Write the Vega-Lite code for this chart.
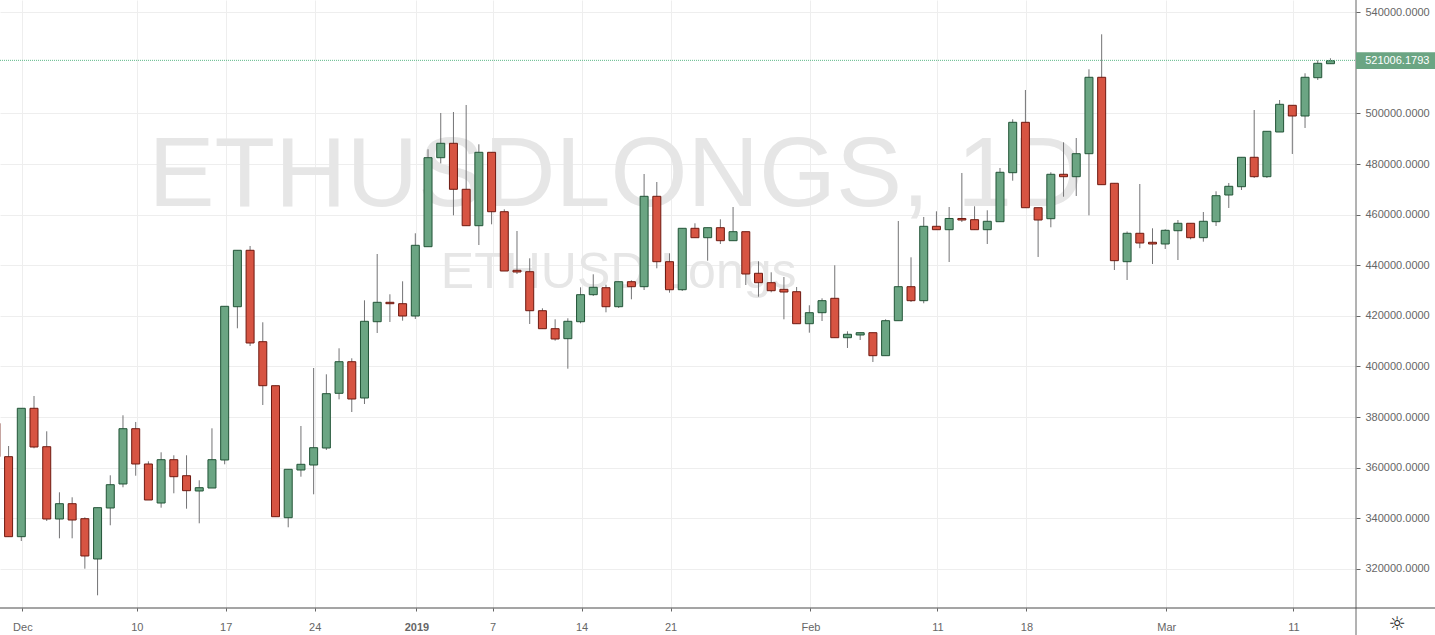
{"$schema":"https://vega.github.io/schema/vega-lite/v6.json","width":1356,"height":608,"autosize":{"type":"none"},"padding":{"left":0,"top":0,"right":79,"bottom":27},"background":"#ffffff","config":{"view":{"stroke":null},"font":"Liberation Sans"},
"datasets":{"candles":[
{"date":"2018-11-29","open":377550,"high":377550,"low":364350,"close":364350},
{"date":"2018-11-30","open":364350,"high":368570,"low":332730,"close":332730},
{"date":"2018-12-01","open":332730,"high":383480,"low":331020,"close":383480},
{"date":"2018-12-02","open":383480,"high":388340,"low":367660,"close":368180},
{"date":"2018-12-03","open":368290,"high":374380,"low":338930,"close":339720},
{"date":"2018-12-04","open":339720,"high":350270,"low":332090,"close":345770},
{"date":"2018-12-05","open":345770,"high":348300,"low":332090,"close":339320},
{"date":"2018-12-06","open":339840,"high":340390,"low":320080,"close":325100},
{"date":"2018-12-07","open":323910,"high":344190,"low":309560,"close":344190},
{"date":"2018-12-08","open":344070,"high":356990,"low":337230,"close":353280},
{"date":"2018-12-09","open":353560,"high":380710,"low":352250,"close":375410},
{"date":"2018-12-10","open":375410,"high":378060,"low":356830,"close":361460},
{"date":"2018-12-11","open":361460,"high":362530,"low":347230,"close":347230},
{"date":"2018-12-12","open":346040,"high":366080,"low":344190,"close":363160},
{"date":"2018-12-13","open":363160,"high":364900,"low":349880,"close":356440},
{"date":"2018-12-14","open":356830,"high":364900,"low":343790,"close":350910},
{"date":"2018-12-15","open":350790,"high":355020,"low":338020,"close":352090},
{"date":"2018-12-16","open":351970,"high":375570,"low":351970,"close":363160},
{"date":"2018-12-17","open":363040,"high":423790,"low":361340,"close":423790},
{"date":"2018-12-18","open":423630,"high":445930,"low":415100,"close":445930},
{"date":"2018-12-19","open":445930,"high":447630,"low":408100,"close":409290},
{"date":"2018-12-20","open":409800,"high":417470,"low":384780,"close":392410},
{"date":"2018-12-21","open":392410,"high":392410,"low":340630,"close":340630},
{"date":"2018-12-22","open":340230,"high":359360,"low":336440,"close":359360},
{"date":"2018-12-23","open":359090,"high":376480,"low":356440,"close":361340},
{"date":"2018-12-24","open":361060,"high":399400,"low":349480,"close":367900},
{"date":"2018-12-25","open":367780,"high":396910,"low":366990,"close":389250},
{"date":"2018-12-26","open":389400,"high":407190,"low":387030,"close":401890},
{"date":"2018-12-27","open":401890,"high":403240,"low":382010,"close":387150},
{"date":"2018-12-28","open":387550,"high":426160,"low":385170,"close":417860},
{"date":"2018-12-29","open":417700,"high":444460,"low":413240,"close":425370},
{"date":"2018-12-30","open":425370,"high":428540,"low":417590,"close":424820},
{"date":"2018-12-31","open":424820,"high":433670,"low":418100,"close":419960},
{"date":"2019-01-01","open":419960,"high":452650,"low":418770,"close":447900},
{"date":"2019-01-02","open":447350,"high":485850,"low":447350,"close":482530},
{"date":"2019-01-03","open":482530,"high":500200,"low":480310,"close":488220},
{"date":"2019-01-04","open":488220,"high":500590,"low":459760,"close":470040},
{"date":"2019-01-05","open":470040,"high":503360,"low":455650,"close":455650},
{"date":"2019-01-06","open":455650,"high":487820,"low":448020,"close":484660},
{"date":"2019-01-07","open":484660,"high":484660,"low":456200,"close":461180},
{"date":"2019-01-08","open":461180,"high":462130,"low":437740,"close":437740},
{"date":"2019-01-09","open":438020,"high":453550,"low":436560,"close":437350},
{"date":"2019-01-10","open":437470,"high":442760,"low":416800,"close":422050},
{"date":"2019-01-11","open":422050,"high":423000,"low":414940,"close":414940},
{"date":"2019-01-12","open":414940,"high":418650,"low":410200,"close":410870},
{"date":"2019-01-13","open":410990,"high":419050,"low":399130,"close":417860},
{"date":"2019-01-14","open":417700,"high":431300,"low":417070,"close":428380},
{"date":"2019-01-15","open":428380,"high":436440,"low":427860,"close":431300},
{"date":"2019-01-16","open":431140,"high":432330,"low":421420,"close":423630},
{"date":"2019-01-17","open":423630,"high":433510,"low":423120,"close":433510},
{"date":"2019-01-18","open":433510,"high":434070,"low":426560,"close":431540},
{"date":"2019-01-19","open":431540,"high":476080,"low":430230,"close":467270},
{"date":"2019-01-20","open":467270,"high":472920,"low":438810,"close":441420},
{"date":"2019-01-21","open":441420,"high":444740,"low":429170,"close":430350},
{"date":"2019-01-22","open":430350,"high":454620,"low":429840,"close":454620},
{"date":"2019-01-23","open":454620,"high":456600,"low":450910,"close":450910},
{"date":"2019-01-24","open":450910,"high":454860,"low":441820,"close":454860},
{"date":"2019-01-25","open":454860,"high":458180,"low":448420,"close":449720},
{"date":"2019-01-26","open":449720,"high":463040,"low":449720,"close":453280},
{"date":"2019-01-27","open":453280,"high":453280,"low":432210,"close":436560},
{"date":"2019-01-28","open":436840,"high":441580,"low":427590,"close":433120},
{"date":"2019-01-29","open":433120,"high":437230,"low":429330,"close":429960},
{"date":"2019-01-30","open":430510,"high":435370,"low":418650,"close":429440},
{"date":"2019-01-31","open":429560,"high":431420,"low":416910,"close":416910},
{"date":"2019-02-01","open":416910,"high":424190,"low":413360,"close":421260},
{"date":"2019-02-02","open":421260,"high":426950,"low":417980,"close":426010},
{"date":"2019-02-03","open":426950,"high":440000,"low":411380,"close":411380},
{"date":"2019-02-04","open":411380,"high":413910,"low":407310,"close":412720},
{"date":"2019-02-05","open":412450,"high":413360,"low":410470,"close":413360},
{"date":"2019-02-06","open":413360,"high":413360,"low":401780,"close":404270},
{"date":"2019-02-07","open":404270,"high":418650,"low":404270,"close":418100},
{"date":"2019-02-08","open":418100,"high":457510,"low":418100,"close":431540},
{"date":"2019-02-09","open":431540,"high":443160,"low":425490,"close":426010},
{"date":"2019-02-10","open":426010,"high":459090,"low":424980,"close":455410},
{"date":"2019-02-11","open":455410,"high":461340,"low":454070,"close":454070},
{"date":"2019-02-12","open":454070,"high":463040,"low":441300,"close":458500},
{"date":"2019-02-13","open":458500,"high":476480,"low":457110,"close":457900},
{"date":"2019-02-14","open":458020,"high":463320,"low":454070,"close":454070},
{"date":"2019-02-15","open":454070,"high":461740,"low":448420,"close":457390},
{"date":"2019-02-16","open":457230,"high":478460,"low":457230,"close":476760},
{"date":"2019-02-17","open":476600,"high":497710,"low":473440,"close":496520},
{"date":"2019-02-18","open":496520,"high":509290,"low":462760,"close":462760},
{"date":"2019-02-19","open":462760,"high":462760,"low":443280,"close":457900},
{"date":"2019-02-20","open":458420,"high":476760,"low":455020,"close":475970},
{"date":"2019-02-21","open":475970,"high":488610,"low":467110,"close":475020},
{"date":"2019-02-22","open":475020,"high":490310,"low":467390,"close":484110},
{"date":"2019-02-23","open":484110,"high":517470,"low":459760,"close":514310},
{"date":"2019-02-24","open":514310,"high":531300,"low":471860,"close":471860},
{"date":"2019-02-25","open":472410,"high":472410,"low":438140,"close":441820},
{"date":"2019-02-26","open":441420,"high":453360,"low":434190,"close":452650},
{"date":"2019-02-27","open":452650,"high":472130,"low":446760,"close":448810},
{"date":"2019-02-28","open":449090,"high":454620,"low":440510,"close":448420},
{"date":"2019-03-01","open":448420,"high":454230,"low":446440,"close":453830},
{"date":"2019-03-02","open":453670,"high":457900,"low":442090,"close":456600},
{"date":"2019-03-03","open":456600,"high":456600,"low":450270,"close":450910},
{"date":"2019-03-04","open":450910,"high":461060,"low":449330,"close":457390},
{"date":"2019-03-05","open":457230,"high":469250,"low":455530,"close":467510},
{"date":"2019-03-06","open":467780,"high":472530,"low":462650,"close":471220},
{"date":"2019-03-07","open":471060,"high":482690,"low":469760,"close":482690},
{"date":"2019-03-08","open":482690,"high":501380,"low":474500,"close":475020},
{"date":"2019-03-09","open":475020,"high":492960,"low":474500,"close":492960},
{"date":"2019-03-10","open":492690,"high":505330,"low":492690,"close":503630},
{"date":"2019-03-11","open":503240,"high":503240,"low":483990,"close":499010},
{"date":"2019-03-12","open":499010,"high":515890,"low":494270,"close":514310},
{"date":"2019-03-13","open":514150,"high":521030,"low":513240,"close":519840},
{"date":"2019-03-14","open":519680,"high":521820,"low":519680,"close":520870}
]},
"encoding":{
"x":{"field":"date","type":"temporal","title":null,"scale":{"type":"utc","padding":0,"domain":[1543477593600,1552695264000]},"axis":{"title":null,"values":[1543629600000,1544407200000,1545012000000,1545616800000,1546308000000,1546826400000,1547431200000,1548036000000,1548986400000,1549850400000,1550455200000,1551405600000,1552269600000],"labelExpr":"utcdate(datum.value)==1 ? (utcmonth(datum.value)==0 ? '2019' : utcFormat(datum.value,'%b')) : utcFormat(datum.value,'%-d')","labelFontWeight":{"condition":{"test":"utcdate(datum.value)==1 && utcmonth(datum.value)==0","value":"bold"},"value":"normal"},"labelFont":"Liberation Sans","labelFontSize":11,"labelColor":"#666666","labelPadding":10,"labelOverlap":false,"labelFlush":false,"tickColor":"#666666","tickSize":3,"domain":false,"grid":true,"gridColor":"#eeeeee","gridWidth":1}},
"y":{"field":"high","type":"quantitative","title":null,"scale":{"domain":[304540,544860],"nice":false,"zero":false},"axis":{"title":null,"orient":"right","values":[320000,340000,360000,380000,400000,420000,440000,460000,480000,500000,540000],"format":".4f","labelFont":"Liberation Sans","labelFontSize":11,"labelColor":"#666666","labelPadding":5,"tickColor":"#666666","tickSize":4,"domain":false,"grid":true,"gridColor":"#eeeeee","gridWidth":1}}
},
"layer":[
{"data":{"values":[{"date":"2019-01-16T19:00:00Z","high":463440,"label":"ETHUSDLONGS, 1D"}]},"mark":{"type":"text","align":"center","baseline":"alphabetic","fontSize":99,"font":"Liberation Sans","color":"#e6e6e6"},"encoding":{"text":{"field":"label"}}},
{"data":{"values":[{"date":"2019-01-17T00:00:00Z","high":431020,"label":"ETHUSD Longs"}]},"mark":{"type":"text","align":"center","baseline":"alphabetic","fontSize":50,"font":"Liberation Sans","color":"#e6e6e6"},"encoding":{"text":{"field":"label"}}},
{"data":{"name":"candles"},"mark":{"type":"rule","color":"#737375","strokeWidth":1,"clip":true},"encoding":{"y2":{"field":"low"}}},
{"data":{"name":"candles"},"mark":{"type":"bar","size":8,"strokeWidth":1,"clip":true},"encoding":{"y":{"field":"open","type":"quantitative","title":null},"y2":{"field":"close"},"fill":{"condition":{"test":"datum.close>=datum.open","value":"#6ba583"},"value":"#d75442"},"stroke":{"condition":{"test":"datum.close>=datum.open","value":"#225437"},"value":"#6f1a11"}}},
{"data":{"values":[{"date":1543477593600,"date2":1552695264000,"high":521006.18}]},"mark":{"type":"rule","color":"#5fb98a","strokeWidth":1,"strokeDash":[1,1]},"encoding":{"x2":{"field":"date2"}}},
{"data":{"values":[{"date":1552695264000,"high":544860,"low":293870}]},"mark":{"type":"rule","color":"#666666","strokeWidth":1},"encoding":{"y2":{"field":"low"}}},
{"data":{"values":[{"date":1543477593600,"date2":1553234400000,"high":304540}]},"mark":{"type":"rule","color":"#4a4a4a","strokeWidth":1},"encoding":{"x2":{"field":"date2"}}},
{"data":{"values":[{"date":1552695264000,"date2":1553234400000,"high":524190,"low":517590}]},"mark":{"type":"rect","color":"#6ba583"},"encoding":{"x2":{"field":"date2"},"y2":{"field":"low"}}},
{"data":{"values":[{"date":"2019-03-16T17:30:00Z","high":520900,"label":"521006.1793"}]},"mark":{"type":"text","align":"left","baseline":"middle","fontSize":11,"font":"Liberation Sans","color":"#ffffff"},"encoding":{"text":{"field":"label"}}},
{"data":{"values":[{"date":"2019-03-19T05:45:00Z","high":298300,"label":"☼"}]},"mark":{"type":"text","align":"center","baseline":"middle","fontSize":19,"font":"DejaVu Sans","color":"#222222"},"encoding":{"text":{"field":"label"}}}
]}
